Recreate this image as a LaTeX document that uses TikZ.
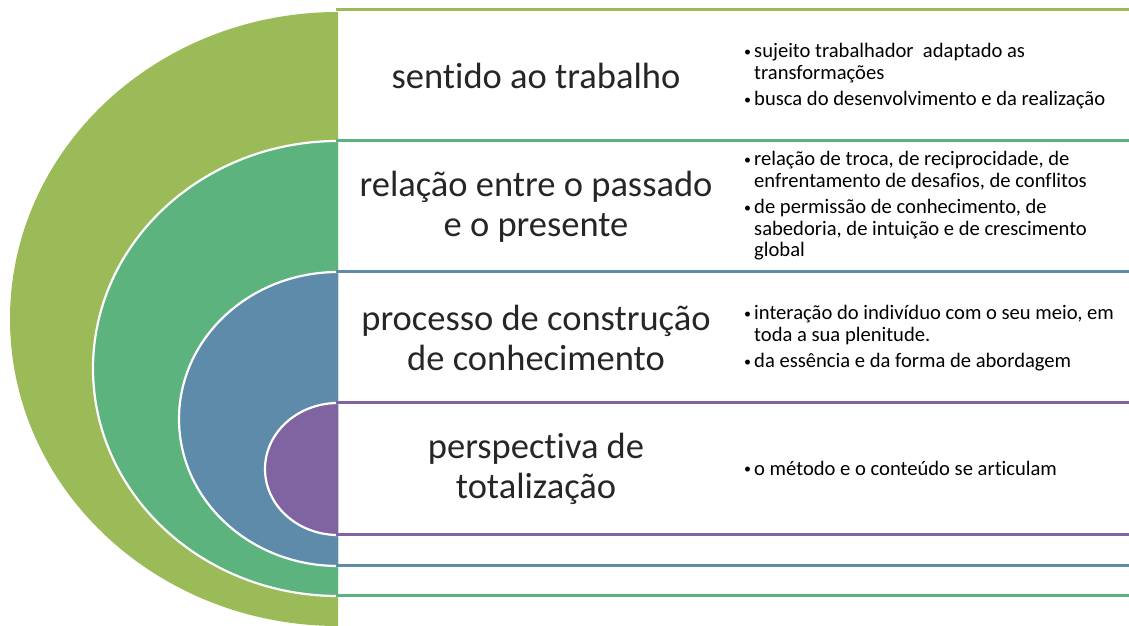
\documentclass[tikz,border=0pt]{standalone}
\usepackage{fontspec}
\setmainfont{Carlito}[Ligatures=NoCommon]
\usepackage{tikz}
\definecolor{ringOlive}{RGB}{155,187,89}
\definecolor{ringGreen}{RGB}{92,179,125}
\definecolor{ringBlue}{RGB}{95,139,170}
\definecolor{ringPurple}{RGB}{128,100,162}
\newcommand{\bitem}{\makebox[10pt][l]{\raisebox{1.2pt}{\fontsize{14}{14}\selectfont\textbullet}}}
\newcommand{\bcont}{\hspace*{10pt}}

\begin{document}
\begin{tikzpicture}[x=1pt,y=1pt,
  rim/.style={draw=white,line width=2.2pt},
  bandline/.style={line width=3pt},
  lefttxt/.style={font=\fontsize{36.5}{40}\selectfont,align=center,
                  inner sep=0pt,text=black!85},
  righttxt/.style={font=\fontsize{20.6}{21.5}\selectfont,align=left,
                   inner sep=0pt,anchor=west}]
\useasboundingbox (0,0) rectangle (1129,626);

% ===== outer level: olive =====
\fill[ringOlive] (338,614) arc[start angle=90,end angle=270,x radius=328,y radius=307] -- cycle;
\draw[bandline,ringOlive] (336,616) -- (1129,616);

% ===== second level: green =====
\fill[ringGreen] (338,485) arc[start angle=90,end angle=270,x radius=245,y radius=227.5] -- cycle;
\draw[rim] (338,485) arc[start angle=90,end angle=270,x radius=245,y radius=227.5];
\draw[bandline,ringGreen] (336,485) -- (1129,485);
\draw[bandline,ringGreen] (336,30) -- (1129,30);

% ===== third level: blue =====
\fill[ringBlue] (338,354) arc[start angle=90,end angle=270,x radius=159,y radius=147] -- cycle;
\draw[rim] (338,354) arc[start angle=90,end angle=270,x radius=159,y radius=147];
\draw[bandline,ringBlue] (336,354) -- (1129,354);
\draw[bandline,ringBlue] (336,60) -- (1129,60);

% ===== inner level: purple =====
\fill[ringPurple] (338,223) arc[start angle=90,end angle=270,x radius=73,y radius=66] -- cycle;
\draw[rim] (338,223) arc[start angle=90,end angle=270,x radius=73,y radius=66];
\draw[bandline,ringPurple] (336,223) -- (1129,223);
\draw[bandline,ringPurple] (336,91) -- (1129,91);

% ===== titles =====
\node[lefttxt] (sentido) at (536,550) {sentido ao trabalho};
\node[lefttxt] (relacao) at (536,419.5) {relação entre o passado\\ e o presente};
\node[lefttxt] (processo) at (536,288.5) {processo de construção\\ de conhecimento};
\node[lefttxt] (perspectiva) at (536,157) {perspectiva de\\ totalização};

% ===== bullet texts =====
\node[righttxt] (sentidoTxt) at (744,549.5)
   {\bitem sujeito trabalhador\ \ adaptado as\\ \bcont transformações\\[5pt]
    \bitem busca do desenvolvimento e da realização};
\node[righttxt] (relacaoTxt) at (744,420)
   {\bitem relação de troca, de reciprocidade, de\\ \bcont enfrentamento de desafios, de conflitos\\[5pt]
    \bitem de permissão de conhecimento, de\\ \bcont sabedoria, de intuição e de crescimento\\ \bcont global};
\node[righttxt] (processoTxt) at (744,287.5)
   {\bitem interação do indivíduo com o seu meio, em\\ \bcont toda a sua plenitude.\\[5pt]
    \bitem da essência e da forma de abordagem};
\node[righttxt] (perspectivaTxt) at (744,158)
   {\bitem o método e o conteúdo se articulam};
\end{tikzpicture}
\end{document}
